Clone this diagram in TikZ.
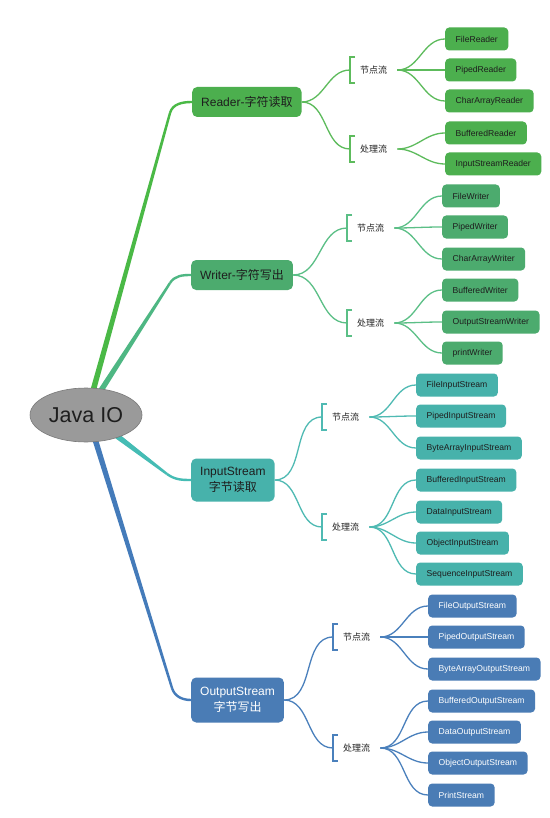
\documentclass[tikz,border=0pt]{standalone}
\usepackage{fontspec}
\setmainfont{Liberation Sans}
\newfontfamily\cjk{Noto Sans CJK SC}
\usetikzlibrary{calc,backgrounds,shapes.geometric}
\definecolor{rfill}{HTML}{4CAF4E}
\definecolor{rline}{HTML}{5DBB5C}
\definecolor{rmain}{HTML}{4AB946}
\definecolor{wfill}{HTML}{4CAB6E}
\definecolor{wline}{HTML}{5BBF86}
\definecolor{wmain}{HTML}{4EB783}
\definecolor{ifill}{HTML}{47B2AB}
\definecolor{iline}{HTML}{4FBAB3}
\definecolor{imain}{HTML}{45BCB4}
\definecolor{ofill}{HTML}{4A7CB5}
\definecolor{oline}{HTML}{4A80BC}
\definecolor{omain}{HTML}{447BBA}
\definecolor{darktext}{HTML}{1E1E1E}
\definecolor{javafill}{HTML}{9A9A9A}
\definecolor{javaedge}{HTML}{7A7A7A}
\newcommand\mytaper[5]{%
  \fill[#1] ($(#2)!2.8pt!90:(#3)$) -- ($(#3)!1.2pt!-90:(#2)$) -- ($(#3)!1.2pt!90:(#2)$) -- ($(#2)!2.8pt!-90:(#3)$) -- cycle;
  \draw[#1, line width=2.4pt] (#3) to[out=#5,in=180] (#4);
}
\newcommand\mybracket[2]{%
  \draw[#1, line width=1.2pt] ($(#2)+(5,-13)$) -- ($(#2)+(0,-13)$) -- ($(#2)+(0,13)$) -- ($(#2)+(5,13)$);
}
\begin{document}
\begin{tikzpicture}[x=1pt,y=-1pt,
  catbox/.style={rounded corners=5pt, anchor=west, inner xsep=9pt, align=center,
    font=\fontsize{12}{16}\selectfont},
  leafbox/.style={rounded corners=4pt, anchor=west, inner xsep=10.5pt, minimum height=23pt,
    font=\fontsize{8.6}{10}\selectfont},
  sublabel/.style={anchor=west, inner sep=0pt, font=\cjk\fontsize{9}{10}\selectfont, text=darktext},
  subline/.style={line width=1.3pt}]
\begin{scope}[on background layer]
  \fill[white] (0,0) rectangle (549,818);
\end{scope}
\useasboundingbox (0,0) rectangle (549,818);

% root
\node[ellipse, fill=javafill, draw=javaedge, line width=0.6pt, minimum width=112pt, minimum height=54pt,
  font=\fontsize{21.5}{24}\selectfont, text=darktext, inner sep=0pt] (java) at (86,415) {Java IO};

% category nodes
\node[catbox, fill=rfill, text=darktext, minimum height=30pt] (rc) at (192,102) {Reader-{\cjk 字符读取}};
\node[catbox, fill=wfill, text=darktext, minimum height=30pt] (wc) at (191,275) {Writer-{\cjk 字符写出}};
\node[catbox, fill=ifill, text=darktext, minimum height=43pt] (ic) at (191,480) {InputStream\\{\cjk 字节读取}};
\node[catbox, fill=ofill, text=white, minimum height=45pt] (oc) at (191,700) {OutputStream\\{\cjk 字节写出}};

% main branches
\coordinate (ra) at ($(java.center)+(7,-24)$);
\coordinate (rb) at (170,113);
\coordinate (wa) at ($(java.center)+(14,-23)$);
\coordinate (wb) at (170,283);
\coordinate (ia) at ($(java.center)+(31,21)$);
\coordinate (ib) at (167,474);
\coordinate (oa) at ($(java.center)+(9,24)$);
\coordinate (ob) at (172,688);
\begin{scope}[on background layer]
  \mytaper{rmain}{ra}{rb}{rc.west}{74}
  \mytaper{wmain}{wa}{wb}{wc.west}{57}
  \mytaper{imain}{ia}{ib}{ic.west}{-36}
  \mytaper{omain}{oa}{ob}{oc.west}{-73}
\end{scope}

% ---------- Reader group ----------
\coordinate (rNb) at (350,70);
\coordinate (rPb) at (350,149);
\node[sublabel] (rNl) at (360,70) {节点流};
\node[sublabel] (rPl) at (360,149) {处理流};
\mybracket{rline}{rNb}
\mybracket{rline}{rPb}
\draw[rline, subline] (rc.east) to[out=0,in=180] (rNb);
\draw[rline, subline] (rc.east) to[out=0,in=180] (rPb);
\coordinate (rNo) at ($(rNl.east)+(10,0)$);
\coordinate (rPo) at ($(rPl.east)+(10,0)$);
\foreach \t/\y [count=\i] in {FileReader/39, PipedReader/70, CharArrayReader/101} {
  \node[leafbox, fill=rfill, text=darktext] (rN\i) at (445,\y) {\t};
  \draw[rline, subline] (rNo) to[out=0,in=180] (rN\i.west);
}
\foreach \t/\y [count=\i] in {BufferedReader/133, InputStreamReader/164} {
  \node[leafbox, fill=rfill, text=darktext] (rP\i) at (445,\y) {\t};
  \draw[rline, subline] (rPo) to[out=0,in=180] (rP\i.west);
}

% ---------- Writer group ----------
\coordinate (wNb) at (347,228);
\coordinate (wPb) at (347,323);
\node[sublabel] (wNl) at (357,228) {节点流};
\node[sublabel] (wPl) at (357,323) {处理流};
\mybracket{wline}{wNb}
\mybracket{wline}{wPb}
\draw[wline, subline] (wc.east) to[out=0,in=180] (wNb);
\draw[wline, subline] (wc.east) to[out=0,in=180] (wPb);
\coordinate (wNo) at ($(wNl.east)+(10,0)$);
\coordinate (wPo) at ($(wPl.east)+(10,0)$);
\foreach \t/\y [count=\i] in {FileWriter/196, PipedWriter/227, CharArrayWriter/259} {
  \node[leafbox, fill=wfill, text=darktext] (wN\i) at (442,\y) {\t};
  \draw[wline, subline] (wNo) to[out=0,in=180] (wN\i.west);
}
\foreach \t/\y [count=\i] in {BufferedWriter/290, OutputStreamWriter/322, printWriter/353} {
  \node[leafbox, fill=wfill, text=darktext] (wP\i) at (442,\y) {\t};
  \draw[wline, subline] (wPo) to[out=0,in=180] (wP\i.west);
}

% ---------- InputStream group ----------
\coordinate (iNb) at (322,417);
\coordinate (iPb) at (322,527);
\node[sublabel] (iNl) at (332,417) {节点流};
\node[sublabel] (iPl) at (332,527) {处理流};
\mybracket{iline}{iNb}
\mybracket{iline}{iPb}
\draw[iline, subline] (ic.east) to[out=0,in=180] (iNb);
\draw[iline, subline] (ic.east) to[out=0,in=180] (iPb);
\coordinate (iNo) at ($(iNl.east)+(10,0)$);
\coordinate (iPo) at ($(iPl.east)+(10,0)$);
\foreach \t/\y [count=\i] in {FileInputStream/385, PipedInputStream/416, ByteArrayInputStream/448} {
  \node[leafbox, fill=ifill, text=darktext] (iN\i) at (416,\y) {\t};
  \draw[iline, subline] (iNo) to[out=0,in=180] (iN\i.west);
}
\foreach \t/\y [count=\i] in {BufferedInputStream/480, DataInputStream/512, ObjectInputStream/543, SequenceInputStream/574} {
  \node[leafbox, fill=ifill, text=darktext] (iP\i) at (416,\y) {\t};
  \draw[iline, subline] (iPo) to[out=0,in=180] (iP\i.west);
}

% ---------- OutputStream group ----------
\coordinate (oNb) at (333,637);
\coordinate (oPb) at (333,748);
\node[sublabel] (oNl) at (343,637) {节点流};
\node[sublabel] (oPl) at (343,748) {处理流};
\mybracket{oline}{oNb}
\mybracket{oline}{oPb}
\draw[oline, subline] (oc.east) to[out=0,in=180] (oNb);
\draw[oline, subline] (oc.east) to[out=0,in=180] (oPb);
\coordinate (oNo) at ($(oNl.east)+(10,0)$);
\coordinate (oPo) at ($(oPl.east)+(10,0)$);
\foreach \t/\y [count=\i] in {FileOutputStream/606, PipedOutputStream/637, ByteArrayOutputStream/669} {
  \node[leafbox, fill=ofill, text=white] (oN\i) at (428,\y) {\t};
  \draw[oline, subline] (oNo) to[out=0,in=180] (oN\i.west);
}
\foreach \t/\y [count=\i] in {BufferedOutputStream/701, DataOutputStream/732, ObjectOutputStream/763, PrintStream/795} {
  \node[leafbox, fill=ofill, text=white] (oP\i) at (428,\y) {\t};
  \draw[oline, subline] (oPo) to[out=0,in=180] (oP\i.west);
}
\end{tikzpicture}
\end{document}
